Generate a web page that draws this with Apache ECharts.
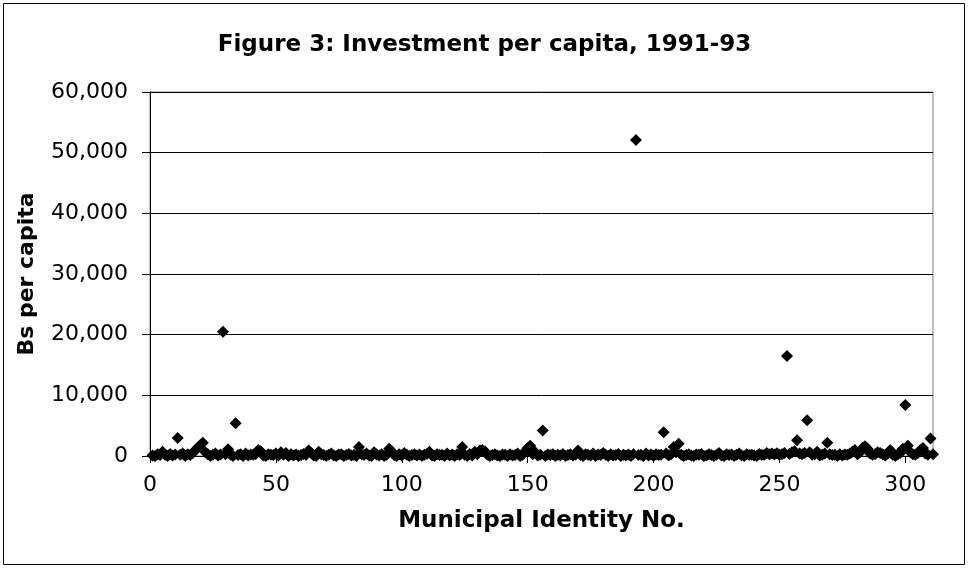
<!DOCTYPE html>
<html>
<head>
<meta charset="utf-8">
<script src="https://cdn.jsdelivr.net/npm/echarts@6/dist/echarts.min.js"></script>
<style>html,body{margin:0;padding:0;background:#fff;}#c{width:969px;height:569px;}</style>
</head>
<body>
<div id="c"></div>
<script>
var chartTitle = 'Figure 3: Investment per capita, 1991-93';
var xAxisTitle = 'Municipal Identity No.';
var yAxisTitle = 'Bs per capita';
var xTicks = [0, 50, 100, 150, 200, 250, 300];
var yTicks = [0, 10000, 20000, 30000, 40000, 50000, 60000];
// Investment per capita (Bs) for municipal identity numbers 1..311
var investment = [
  100, 0, 300, 150, 700, 200, 0, 350, 100, 250,
  2950, 200, 400, 0, 300, 150, 500, 1000, 1400, 1800,
  2200, 600, 300, 0, 200, 400, 100, 250, 20500, 300,
  1100, 200, 0, 5400, 150, 300, 0, 400, 100, 250,
  200, 350, 1000, 800, 100, 0, 300, 200, 150, 400,
  100, 600, 200, 500, 0, 300, 100, 250, 0, 150,
  350, 200, 900, 500, 100, 0, 700, 300, 150, 0,
  200, 400, 100, 0, 250, 300, 0, 150, 350, 100,
  200, 0, 1500, 300, 150, 400, 100, 0, 600, 250,
  100, 300, 0, 200, 1200, 800, 150, 0, 300, 100,
  500, 200, 0, 150, 300, 100, 250, 0, 200, 350,
  700, 100, 0, 300, 150, 200, 0, 400, 100, 250,
  0, 300, 150, 1500, 200, 0, 350, 100, 700, 300,
  900, 1000, 800, 200, 0, 150, 300, 100, 0, 250,
  200, 0, 300, 100, 150, 400, 0, 200, 800, 1300,
  1700, 300, 600, 100, 200, 4200, 0, 250, 150, 300,
  0, 200, 100, 350, 0, 150, 300, 100, 200, 900,
  150, 0, 300, 200, 100, 400, 0, 250, 150, 500,
  200, 0, 300, 100, 150, 350, 0, 200, 100, 250,
  0, 300, 52100, 150, 200, 0, 400, 100, 250, 0,
  300, 150, 200, 3900, 400, 100, 300, 1500, 600, 2000,
  200, 0, 150, 300, 100, 0, 250, 200, 350, 0,
  100, 300, 150, 0, 200, 500, 100, 0, 300, 150,
  250, 0, 200, 400, 100, 0, 300, 150, 200, 100,
  0, 350, 150, 200, 500, 300, 400, 250, 450, 200,
  300, 500, 16500, 350, 600, 800, 2600, 400, 300, 500,
  5900, 600, 200, 300, 700, 100, 200, 400, 2200, 300,
  150, 200, 0, 300, 100, 250, 200, 400, 700, 1000,
  300, 600, 1300, 1600, 1200, 400, 200, 300, 600, 500,
  300, 100, 400, 1000, 200, 0, 300, 500, 1200, 8400,
  1700, 600, 300, 200, 500, 1000, 1300, 400, 200, 2900, 300
];

var points = investment.map(function (v, i) { return [i + 1, v]; });

var chart = echarts.init(document.getElementById('c'), null, {renderer: 'canvas'});
chart.setOption({
  backgroundColor: '#ffffff',
  animation: false,
  title: {
    text: chartTitle,
    left: 'center',
    top: 34,
    padding: 0,
    textStyle: {fontFamily: 'DejaVu Sans', fontWeight: 'bold', fontSize: 23, color: '#000'}
  },
  grid: {left: 150, right: 36, top: 92, bottom: 113, containLabel: false,
         show: true, borderColor: '#808080', borderWidth: 1, backgroundColor: 'transparent'},
  xAxis: {
    type: 'value',
    min: 0,
    max: 311,
    interval: 50,
    name: xAxisTitle,
    nameLocation: 'middle',
    nameGap: 54,
    nameTextStyle: {fontFamily: 'DejaVu Sans', fontWeight: 'bold', fontSize: 23, color: '#000'},
    axisLine: {show: true, onZero: false, lineStyle: {color: '#000', width: 1}},
    axisTick: {show: true, length: 7, inside: false, customValues: xTicks, lineStyle: {color: '#000'}},
    axisLabel: {show: true, margin: 18, customValues: xTicks,
                fontFamily: 'DejaVu Sans', fontSize: 22, color: '#000'},
    splitLine: {show: false}
  },
  yAxis: {
    type: 'value',
    min: 0,
    max: 60000,
    interval: 10000,
    name: yAxisTitle,
    nameLocation: 'middle',
    nameGap: 112,
    nameTextStyle: {fontFamily: 'DejaVu Sans', fontWeight: 'bold', fontSize: 22, color: '#000'},
    axisLine: {show: true, lineStyle: {color: '#000', width: 1}},
    axisTick: {show: true, length: 8, inside: false, lineStyle: {color: '#000'}},
    axisLabel: {margin: 22, fontFamily: 'DejaVu Sans', fontSize: 22, color: '#000',
                formatter: function (v) { return v.toLocaleString('en-US'); }},
    splitLine: {show: true, lineStyle: {color: '#000', width: 1}}
  },
  series: [{
    type: 'scatter',
    data: points,
    symbol: 'diamond',
    symbolSize: 12,
    itemStyle: {color: '#000', opacity: 1},
    silent: true
  }],
  graphic: [{
    type: 'rect',
    shape: {x: 3.5, y: 3.5, width: 961, height: 561},
    style: {fill: null, stroke: '#000', lineWidth: 1},
    silent: true,
    z: 100
  }]
});
</script>
</body>
</html>
